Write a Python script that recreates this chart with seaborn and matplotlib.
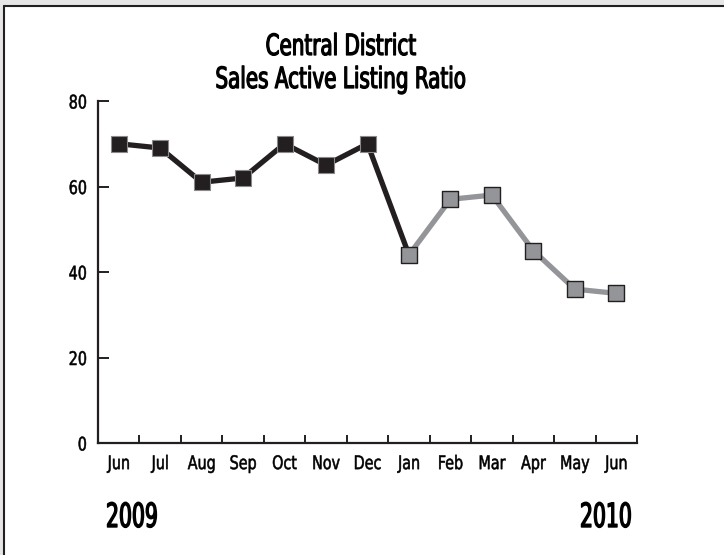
import matplotlib
matplotlib.use('Agg')
import matplotlib.pyplot as plt
import matplotlib.patheffects as pe
import numpy as np
import pandas as pd
import seaborn as sns
from matplotlib.lines import Line2D
from matplotlib.patches import Rectangle
from matplotlib.transforms import Affine2D

months = ['Jun', 'Jul', 'Aug', 'Sep', 'Oct', 'Nov', 'Dec',
          'Jan', 'Feb', 'Mar', 'Apr', 'May', 'Jun']
ratio = [70, 69, 61, 62, 70, 65, 70, 44, 57, 58, 45, 36, 35]
years = ['2009', '2010']
split_at = 7  # first month of 2010 (Jan)

BLACK = '#231f20'
GRAY = '#939598'
W, H = 724, 555


class Squeeze(pe.AbstractPathEffect):
    # narrow the glyphs around x = cx (pixels) and thicken them a bit,
    # to get closer to the condensed medium face of the original
    def __init__(self, sx, cx, lw=0.0):
        super().__init__()
        self.sx = sx
        self.cx = cx
        self.lw = lw

    def draw_path(self, renderer, gc, tpath, affine, rgbFace=None):
        t = affine + Affine2D().translate(-self.cx, 0).scale(self.sx, 1).translate(self.cx, 0)
        gc0 = renderer.new_gc()
        gc0.copy_properties(gc)
        gc0.set_linewidth(self.lw)
        gc0.set_foreground(rgbFace)
        renderer.draw_path(gc0, tpath, t, rgbFace)
        gc0.restore()


sns.set_theme(style='white')
plt.rcParams['font.family'] = ['DejaVu Sans']
plt.rcParams['font.stretch'] = 'condensed'

df = pd.DataFrame({'pos': np.arange(len(months)), 'month': months, 'ratio': ratio})
old = df[df['pos'] <= split_at]
new = df[df['pos'] >= split_at]

fig = plt.figure(figsize=(W / 100, H / 100), dpi=100)
ax = fig.add_axes([98 / W, 1 - 443 / H, (637 - 98) / W, (443 - 101) / H])

sns.lineplot(data=old, x='pos', y='ratio', color=BLACK, linewidth=3.8, ax=ax, zorder=2)
sns.lineplot(data=new, x='pos', y='ratio', color=GRAY, linewidth=3.8, ax=ax, zorder=2)
sns.scatterplot(data=df[df['pos'] < split_at], x='pos', y='ratio', marker='s', s=140,
                color=BLACK, edgecolor='#8a8a8a', linewidth=0.8, ax=ax, zorder=3)
sns.scatterplot(data=df[df['pos'] >= split_at], x='pos', y='ratio', marker='s', s=140,
                color=GRAY, edgecolor=BLACK, linewidth=1.0, ax=ax, zorder=3)

ax.set_xlim(-0.5, len(months) - 0.5)
ax.set_ylim(0, 80)
ax.set_yticks([0, 20, 40, 60, 80])
ax.set_xticks(df['pos'])
ax.set_xticklabels(months)
ax.set_xticks(np.arange(0.5, len(months), 1), minor=True)
ax.tick_params(axis='x', which='major', bottom=True, length=0, pad=8, labelsize=13.5,
               labelcolor='black')
ax.tick_params(axis='x', which='minor', bottom=True, direction='in', length=6, width=1.4,
               color=BLACK)
ax.tick_params(axis='y', left=True, direction='in', length=8, width=1.4, color=BLACK,
               pad=8, labelsize=13.5, labelcolor='black')
ax.set_xlabel('')
ax.set_ylabel('')
sns.despine(ax=ax)
for s in ['left', 'bottom']:
    ax.spines[s].set_color(BLACK)
    ax.spines[s].set_linewidth(1.6)

# squeeze tick labels around their own anchor
fig.canvas.draw()
for lab in ax.get_xticklabels():
    bb = lab.get_window_extent()
    lab.set_path_effects([Squeeze(0.85, (bb.x0 + bb.x1) / 2, 0.4)])
for lab in ax.get_yticklabels():
    bb = lab.get_window_extent()
    lab.set_path_effects([Squeeze(0.85, bb.x1, 0.4)])

tx = 341
fig.text(tx / W, 1 - 55 / H, 'Central District', ha='center', va='baseline', fontsize=21,
         color='black', path_effects=[Squeeze(0.76, tx, 0.9)])
fig.text(tx / W, 1 - 88 / H, 'Sales Active Listing Ratio', ha='center', va='baseline',
         fontsize=21, color='black', path_effects=[Squeeze(0.76, tx, 0.9)])
fig.text(106 / W, 1 - 527 / H, years[0], ha='left', va='baseline', fontsize=24,
         color='black', path_effects=[Squeeze(0.68, 106, 1.0)])
fig.text(632 / W, 1 - 527 / H, years[1], ha='right', va='baseline', fontsize=24,
         color='black', path_effects=[Squeeze(0.68, 632, 1.0)])

# page frame
fig.add_artist(Rectangle((0, 1 - 5 / H), 1, 5 / H, transform=fig.transFigure,
                         facecolor='#e6e6e6', edgecolor='none'))
fig.add_artist(Rectangle((0, 0), 3 / W, 1, transform=fig.transFigure,
                         facecolor='#e6e6e6', edgecolor='none'))
fig.add_artist(Line2D([3.5 / W, 1], [1 - 5.5 / H, 1 - 5.5 / H], transform=fig.transFigure,
                      color=BLACK, linewidth=1.5))
fig.add_artist(Line2D([3.5 / W, 3.5 / W], [0, 1 - 5.5 / H], transform=fig.transFigure,
                      color=BLACK, linewidth=1.5))

fig.savefig('out.png', dpi=100)
